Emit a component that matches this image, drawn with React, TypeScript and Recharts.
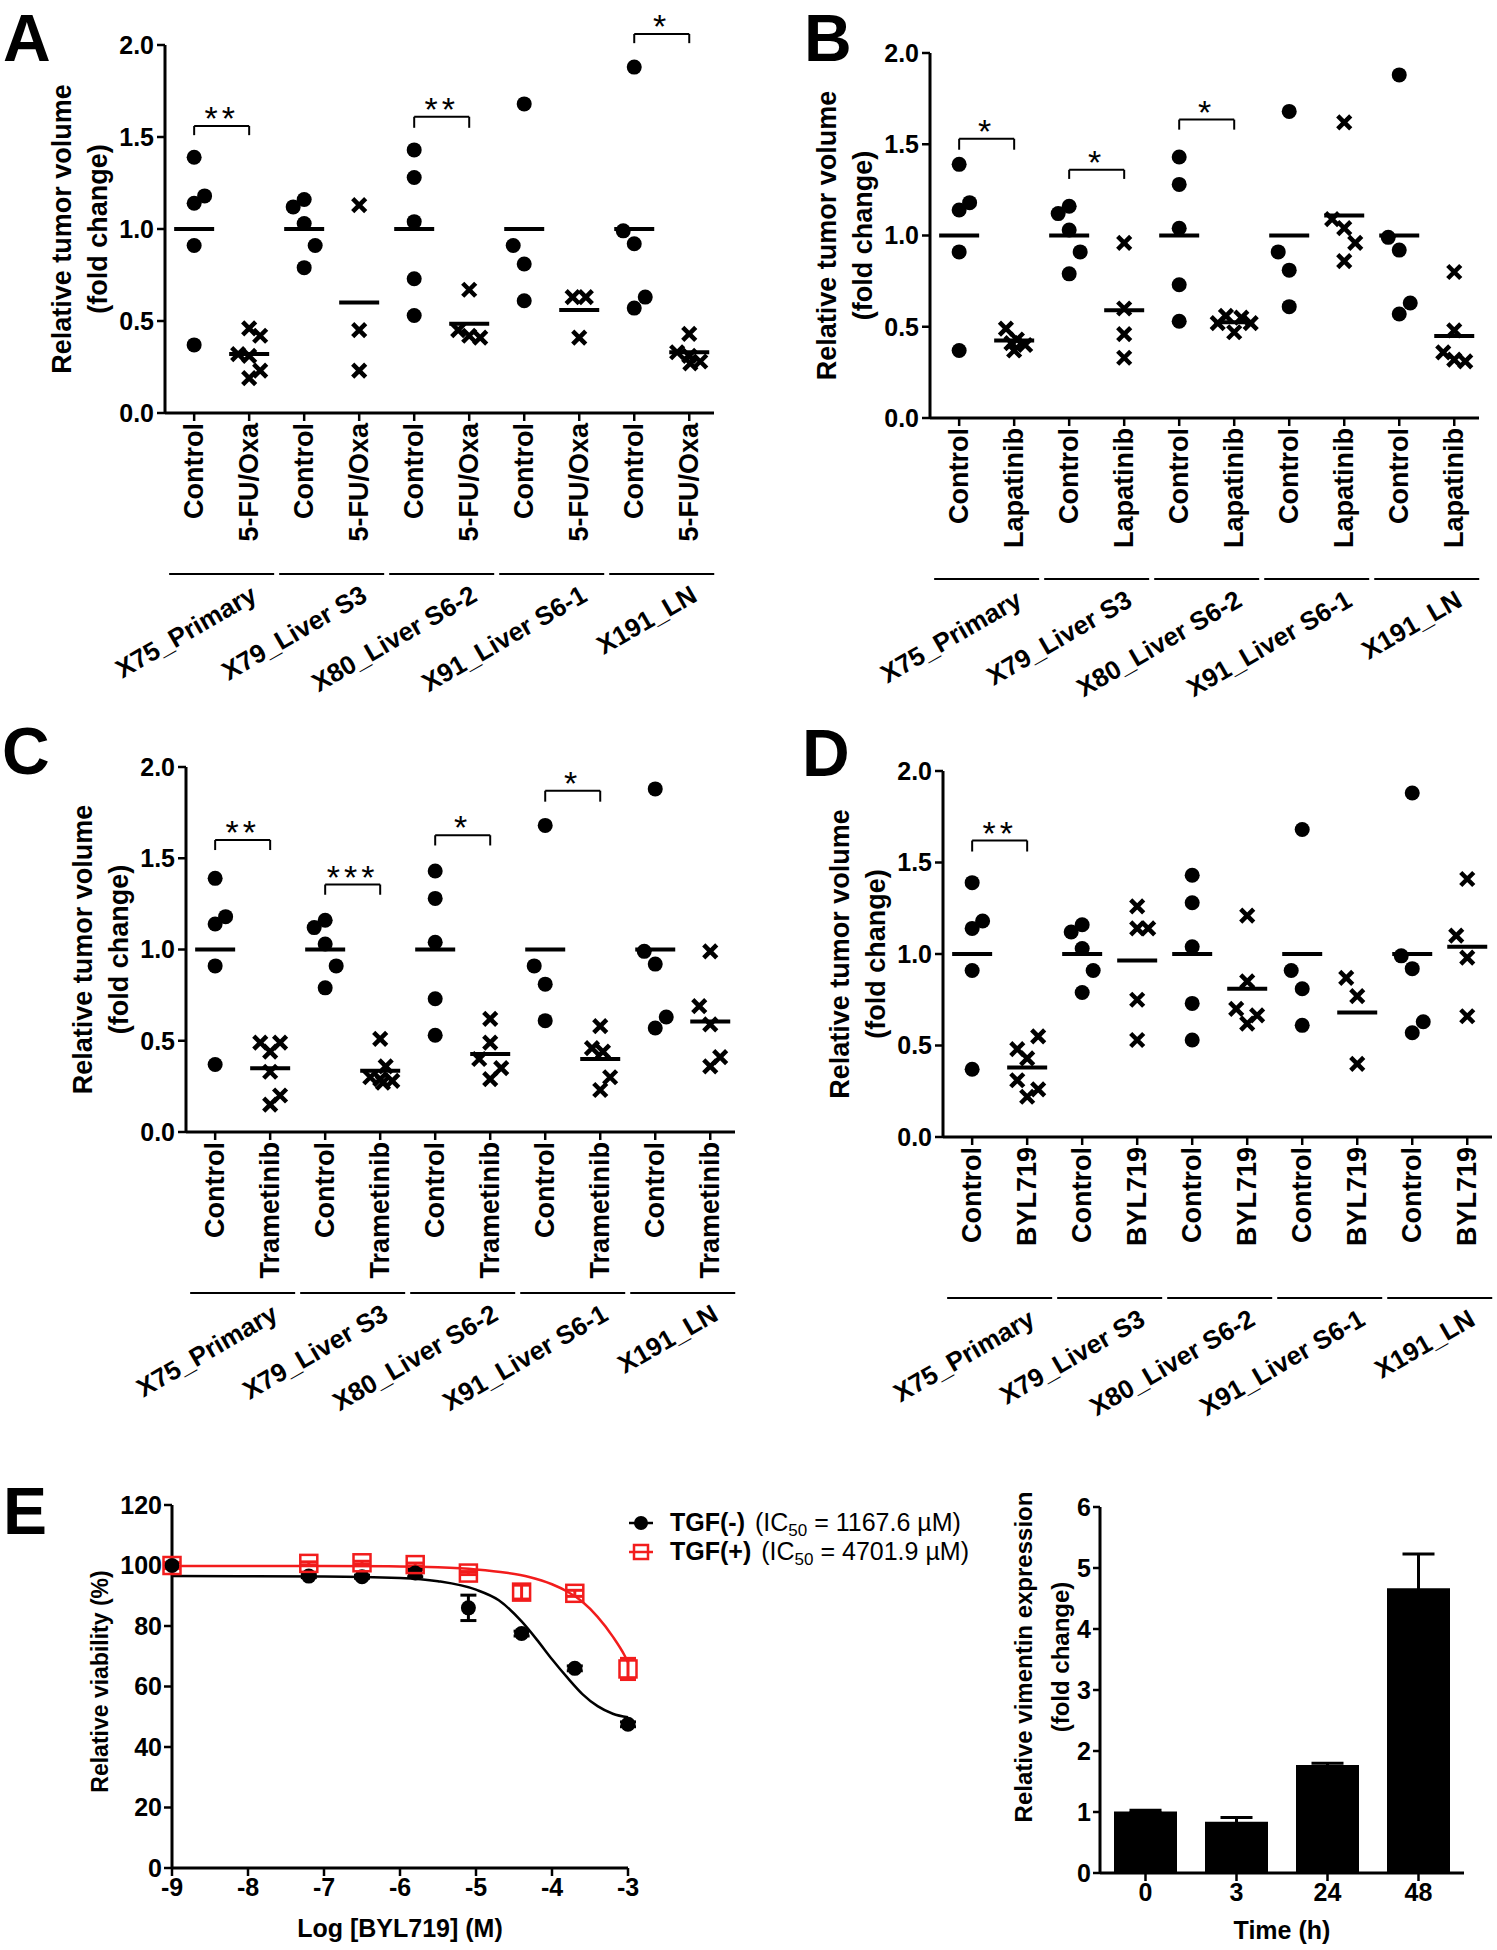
import React from 'react';
import {
  ComposedChart,
  BarChart,
  Bar,
  Scatter,
  Line,
  XAxis,
  YAxis,
  ReferenceLine,
  ReferenceDot,
  ErrorBar,
  Legend,
} from 'recharts';

const FONT = '"Liberation Sans", Arial, Helvetica, sans-serif';

// ---------- panels A-D : tumour volume per xenograft ----------
const XENOGRAFTS = ['X75_Primary', 'X79_Liver S3', 'X80_Liver S6-2', 'X91_Liver S6-1', 'X191_LN'];
const VOLUME_TICKS = [0, 0.5, 1, 1.5, 2];
const COLUMN_TICKS = [0, 1, 2, 3, 4, 5, 6, 7, 8, 9];

// control arms are the same animals in every panel
const CONTROL = [
  [1.39, 1.18, 1.14, 0.91, 0.37],
  [1.16, 1.12, 1.03, 0.91, 0.79],
  [1.43, 1.28, 1.04, 0.73, 0.53],
  [1.68, 0.91, 0.81, 0.61],
  [1.88, 0.99, 0.92, 0.63, 0.57],
];
// sideways scatter of the dots inside a column (column units)
const CONTROL_SPREAD = [
  [0, 0.19, 0, 0, 0],
  [0, -0.2, 0, 0.2, 0],
  [0, 0, 0, 0, 0],
  [0, -0.2, 0, 0],
  [0, -0.2, 0, 0.2, 0],
];
const CONTROL_MEAN = [1, 1, 1, 1, 1];

// A: 5-FU/Oxa
const OXA = [
  [0.46, 0.42, 0.32, 0.31, 0.23, 0.19],
  [1.13, 0.45, 0.23],
  [0.67, 0.45, 0.42, 0.41],
  [0.63, 0.63, 0.41],
  [0.43, 0.33, 0.31, 0.28, 0.27],
];
const OXA_SPREAD = [
  [0, 0.2, -0.2, 0, 0.2, 0],
  [0, 0, 0],
  [0, -0.2, 0, 0.2],
  [-0.12, 0.12, 0],
  [0, -0.22, 0, 0.2, 0.02],
];
const OXA_MEAN = [0.32, 0.6, 0.485, 0.56, 0.33];
const OXA_SIG = [
  { from: 0, to: 1, y: 1.56, leg: 1.51, stars: '**' },
  { from: 4, to: 5, y: 1.61, leg: 1.55, stars: '**' },
  { from: 8, to: 9, y: 2.06, leg: 2.01, stars: '*' },
];

// B: Lapatinib
const LAP = [
  [0.49, 0.43, 0.41, 0.4, 0.37],
  [0.96, 0.6, 0.46, 0.33],
  [0.56, 0.55, 0.52, 0.52, 0.47],
  [1.62, 1.09, 1.04, 0.96, 0.86],
  [0.8, 0.48, 0.36, 0.32, 0.31],
];
const LAP_SPREAD = [
  [-0.15, 0.05, -0.05, 0.2, 0],
  [0, 0, 0, 0],
  [-0.15, 0.13, -0.3, 0.3, 0],
  [0, -0.22, 0, 0.2, 0],
  [0, 0, -0.2, 0, 0.2],
];
const LAP_MEAN = [0.425, 0.59, 0.525, 1.11, 0.45];
const LAP_SIG = [
  { from: 0, to: 1, y: 1.53, leg: 1.47, stars: '*' },
  { from: 2, to: 3, y: 1.36, leg: 1.31, stars: '*' },
  { from: 4, to: 5, y: 1.635, leg: 1.58, stars: '*' },
];

// C: Trametinib
const TRA = [
  [0.49, 0.49, 0.44, 0.33, 0.2, 0.15],
  [0.51, 0.36, 0.3, 0.29, 0.28, 0.27],
  [0.62, 0.49, 0.4, 0.35, 0.29],
  [0.58, 0.46, 0.44, 0.3, 0.23],
  [0.99, 0.69, 0.59, 0.41, 0.36],
];
const TRA_SPREAD = [
  [-0.18, 0.18, 0, 0, 0.18, 0],
  [0, 0.1, -0.18, 0, 0.22, 0.05],
  [0, 0, -0.2, 0.2, 0],
  [0, -0.15, 0.05, 0.18, 0],
  [0, -0.2, 0, 0.18, 0],
];
const TRA_MEAN = [0.35, 0.335, 0.427, 0.4, 0.605];
const TRA_SIG = [
  { from: 0, to: 1, y: 1.6, leg: 1.545, stars: '**' },
  { from: 2, to: 3, y: 1.356, leg: 1.3, stars: '***' },
  { from: 4, to: 5, y: 1.626, leg: 1.57, stars: '*' },
  { from: 6, to: 7, y: 1.87, leg: 1.81, stars: '*' },
];

// D: BYL719
const BYL = [
  [0.55, 0.48, 0.43, 0.31, 0.26, 0.22],
  [1.26, 1.14, 1.14, 0.75, 0.53],
  [1.21, 0.85, 0.7, 0.665, 0.62],
  [0.87, 0.77, 0.4],
  [1.41, 1.1, 0.98, 0.66],
];
const BYL_SPREAD = [
  [0.2, -0.18, 0, -0.18, 0.2, 0],
  [0, 0, 0.2, 0, 0],
  [0, 0, -0.2, 0.18, 0],
  [-0.2, 0, 0],
  [0, -0.2, 0, 0],
];
const BYL_MEAN = [0.38, 0.965, 0.81, 0.68, 1.04];
const BYL_SIG = [{ from: 0, to: 1, y: 1.62, leg: 1.56, stars: '**' }];

// ---------- panel E left : dose response ----------
const LOG_DOSE = [-9, -7.2, -6.5, -5.8, -5.1, -4.4, -3.7, -3];
const VIAB_NEG = [100, 96.5, 96.3, 97.5, 86, 77.5, 66, 47.5];
const VIAB_NEG_ERR = [1, 0.5, 0.5, 1.2, 4.2, 0.8, 0.8, 0.8];
const VIAB_POS = [100, 100.7, 100.9, 100.3, 97.5, 91.2, 90.8, 65.8];
const VIAB_POS_ERR = [1, 0.5, 0.5, 0.5, 0.5, 2.3, 1, 3.5];
// fitted curves
const FIT_NEG_X = [-9, -7, -6, -5.5, -5, -4.7, -4.4, -4.2, -4, -3.8, -3.6, -3.4, -3.2, -3];
const FIT_NEG_Y = [96.5, 96.4, 95.9, 94.8, 92, 88.5, 81.5, 75.5, 69, 63, 57.5, 53.5, 51, 49.8];
const FIT_POS_X = [-9, -7, -6, -5.5, -5, -4.6, -4.3, -4, -3.8, -3.6, -3.4, -3.2, -3.05, -3];
const FIT_POS_Y = [99.8, 99.8, 99.7, 99.4, 98.7, 97.6, 96.2, 93.8, 91.4, 88, 83, 76.5, 70.5, 68];
const DOSE_TICKS = [-9, -8, -7, -6, -5, -4, -3];
const VIAB_TICKS = [0, 20, 40, 60, 80, 100, 120];
const SERIES = ['TGF(-)', 'TGF(+)'];
const IC50 = ['1167.6', '4701.9'];

// ---------- panel E right : vimentin ----------
const TIMES = ['0', '3', '24', '48'];
const VIMENTIN = [1.01, 0.84, 1.77, 4.67];
const VIMENTIN_ERR = [0.02, 0.07, 0.03, 0.56];
const VIM_TICKS = [0, 1, 2, 3, 4, 5, 6];

const RED = '#f21c1c';
const AXIS_LINE = { stroke: '#000', strokeWidth: 3 };
const TICK_LINE = { stroke: '#000', strokeWidth: 2.5 };
const NUM_TICK = { fontSize: 25, fontWeight: 'bold', fill: '#000', fontFamily: FONT };
const COL_PX = 55;

const toPoints = (vals: number[][], spread: number[][], arm: number) =>
  vals.flatMap((grp, g) => grp.map((y, i) => ({ x: 2 * g + arm + spread[g][i], y })));
const toMeans = (means: number[], arm: number) => means.map((y, g) => ({ x: 2 * g + arm, y }));

const DotMark = (p: any) => <circle cx={p.cx} cy={p.cy} r={7.5} fill="#000" />;
const CrossMark = (p: any) => (
  <path
    d={`M${p.cx - 6.5},${p.cy - 6.5}L${p.cx + 6.5},${p.cy + 6.5}M${p.cx + 6.5},${p.cy - 6.5}L${p.cx - 6.5},${p.cy + 6.5}`}
    stroke="#000"
    strokeWidth={4.5}
  />
);
const MeanMark = (p: any) => (
  <line x1={p.cx - 20} x2={p.cx + 20} y1={p.cy} y2={p.cy} stroke="#000" strokeWidth={4} />
);

const ColumnTick = ({ x, y, payload, treatName }: any) => {
  const i = payload.value;
  const first = i % 2 === 0;
  const gx = x + COL_PX / 2 + 37;
  const gy = y + 177;
  return (
    <g>
      <text
        x={x}
        y={y}
        transform={`rotate(-90, ${x}, ${y})`}
        textAnchor="end"
        dominantBaseline="central"
        fontSize={27}
        fontWeight="bold"
        fontFamily={FONT}
        fill="#000"
      >
        {first ? 'Control' : treatName}
      </text>
      {first && (
        <g>
          <line x1={x - 25} x2={x + COL_PX + 25} y1={y + 151} y2={y + 151} stroke="#000" strokeWidth={2} />
          <text
            x={gx}
            y={gy}
            transform={`rotate(-30, ${gx}, ${gy})`}
            textAnchor="end"
            fontSize={26}
            fontWeight="bold"
            fontFamily={FONT}
            fill="#000"
          >
            {XENOGRAFTS[i / 2]}
          </text>
        </g>
      )}
    </g>
  );
};

const YTitle = ({ viewBox, lines, offsets, dy = 0, size = 27 }: any) => {
  const x0 = viewBox.x + viewBox.width;
  const cy = viewBox.y + viewBox.height / 2 + dy;
  return (
    <g>
      {lines.map((s: string, k: number) => {
        const tx = x0 + offsets[k];
        return (
          <text
            key={k}
            x={tx}
            y={cy}
            transform={`rotate(-90, ${tx}, ${cy})`}
            textAnchor="middle"
            dominantBaseline="central"
            fontSize={size}
            fontWeight="bold"
            fontFamily={FONT}
            fill="#000"
          >
            {s}
          </text>
        );
      })}
    </g>
  );
};

const XTitle = ({ viewBox, text, dy }: any) => (
  <text
    x={viewBox.x + viewBox.width / 2}
    y={viewBox.y + dy}
    textAnchor="middle"
    dominantBaseline="central"
    fontSize={25}
    fontWeight="bold"
    fontFamily={FONT}
    fill="#000"
  >
    {text}
  </text>
);

type Sig = { from: number; to: number; y: number; leg: number; stars: string };

const VolumePanel = (props: {
  left: number;
  top: number;
  width: number;
  height: number;
  yAxisW: number;
  plotTop: number;
  plotBottom: number;
  rightM: number;
  treatName: string;
  treat: number[][];
  spread: number[][];
  means: number[];
  sig: Sig[];
}) => {
  const ctrl = toPoints(CONTROL, CONTROL_SPREAD, 0);
  const trt = toPoints(props.treat, props.spread, 1);
  const means = [...toMeans(CONTROL_MEAN, 0), ...toMeans(props.means, 1)];
  return (
    <div style={{ position: 'absolute', left: props.left, top: props.top }}>
      <ComposedChart
        width={props.width}
        height={props.height}
        margin={{ top: props.plotTop, right: props.rightM, bottom: 0, left: 0 }}
      >
        <XAxis
          type="number"
          dataKey="x"
          domain={[-0.53, 9.45]}
          ticks={COLUMN_TICKS}
          interval={0}
          height={props.height - props.plotBottom}
          axisLine={AXIS_LINE}
          tickLine={TICK_LINE}
          tickSize={8}
          tick={(t: any) => <ColumnTick {...t} treatName={props.treatName} />}
        />
        <YAxis
          type="number"
          dataKey="y"
          domain={[0, 2]}
          ticks={VOLUME_TICKS}
          interval={0}
          width={props.yAxisW}
          axisLine={AXIS_LINE}
          tickLine={TICK_LINE}
          tickSize={8}
          tickMargin={3}
          tick={NUM_TICK}
          tickFormatter={(v: number) => v.toFixed(1)}
          label={(l: any) => (
            <YTitle {...l} lines={['Relative tumor volume', '(fold change)']} offsets={[-103, -67]} />
          )}
        />
        <Scatter data={means} shape={MeanMark} isAnimationActive={false} />
        <Scatter data={ctrl} shape={DotMark} isAnimationActive={false} />
        <Scatter data={trt} shape={CrossMark} isAnimationActive={false} />
        {props.sig.map((s, k) => [
          <ReferenceLine
            key={`l${k}`}
            segment={[{ x: s.from, y: s.leg }, { x: s.from, y: s.y }]}
            stroke="#000"
            strokeWidth={2}
            ifOverflow="visible"
          />,
          <ReferenceLine
            key={`m${k}`}
            segment={[{ x: s.from, y: s.y }, { x: s.to, y: s.y }]}
            stroke="#000"
            strokeWidth={2}
            ifOverflow="visible"
          />,
          <ReferenceLine
            key={`r${k}`}
            segment={[{ x: s.to, y: s.y }, { x: s.to, y: s.leg }]}
            stroke="#000"
            strokeWidth={2}
            ifOverflow="visible"
          />,
          <ReferenceDot
            key={`s${k}`}
            x={(s.from + s.to) / 2}
            y={s.y}
            r={0}
            ifOverflow="visible"
            shape={(p: any) => (
              <text
                x={p.cx}
                y={p.cy + 4}
                textAnchor="middle"
                fontSize={34}
                letterSpacing={4}
                fontFamily={FONT}
                fill="#000"
              >
                {s.stars}
              </text>
            )}
          />,
        ])}
      </ComposedChart>
    </div>
  );
};

const BlackDot = (p: any) => <circle cx={p.cx} cy={p.cy} r={7.5} fill="#000" />;
const RedSquare = (p: any) => (
  <rect x={p.cx - 8.5} y={p.cy - 8.5} width={17} height={17} fill="none" stroke={RED} strokeWidth={2.5} />
);

const DoseLegend = () => (
  <div style={{ fontFamily: FONT, fontSize: 25, color: '#000', lineHeight: '29px' }}>
    {SERIES.map((name, k) => (
      <div key={name} style={{ display: 'flex', alignItems: 'center', whiteSpace: 'nowrap', height: 29 }}>
        <svg width={26} height={20} style={{ display: 'block' }}>
          <line x1={1} x2={25} y1={10} y2={10} stroke={k === 0 ? '#000' : RED} strokeWidth={2.5} />
          {k === 0 ? (
            <circle cx={13} cy={10} r={7} fill="#000" />
          ) : (
            <rect x={6} y={3} width={14} height={14} fill="none" stroke={RED} strokeWidth={2.5} />
          )}
        </svg>
        <b style={{ marginLeft: 16 }}>{name}</b>
        <span style={{ marginLeft: 10 }}>
          (IC<sub style={{ fontSize: 17, lineHeight: 0, verticalAlign: -5 }}>50</sub> = {IC50[k]} µM)
        </span>
      </div>
    ))}
  </div>
);

const Letter = ({ ch, left, top }: { ch: string; left: number; top: number }) => (
  <div
    style={{
      position: 'absolute',
      left,
      top,
      fontFamily: FONT,
      fontWeight: 'bold',
      fontSize: 66,
      lineHeight: '66px',
      color: '#000',
    }}
  >
    {ch}
  </div>
);

export default function App() {
  const negPts = LOG_DOSE.map((x, i) => ({ x, y: VIAB_NEG[i], err: VIAB_NEG_ERR[i] }));
  const posPts = LOG_DOSE.map((x, i) => ({ x, y: VIAB_POS[i], err: VIAB_POS_ERR[i] }));
  const fitNeg = FIT_NEG_X.map((x, i) => ({ x, y: FIT_NEG_Y[i] }));
  const fitPos = FIT_POS_X.map((x, i) => ({ x, y: FIT_POS_Y[i] }));
  const vim = TIMES.map((t, i) => ({ t, v: VIMENTIN[i], err: VIMENTIN_ERR[i] }));

  return (
    <div
      style={{
        position: 'absolute',
        left: 0,
        top: 0,
        width: 1497,
        height: 1950,
        background: '#fff',
        overflow: 'hidden',
      }}
    >
      <VolumePanel
        left={0}
        top={0}
        width={740}
        height={715}
        yAxisW={165}
        plotTop={45}
        plotBottom={413}
        rightM={26}
        treatName="5-FU/Oxa"
        treat={OXA}
        spread={OXA_SPREAD}
        means={OXA_MEAN}
        sig={OXA_SIG}
      />
      <VolumePanel
        left={760}
        top={0}
        width={737}
        height={715}
        yAxisW={170}
        plotTop={53}
        plotBottom={418}
        rightM={18}
        treatName="Lapatinib"
        treat={LAP}
        spread={LAP_SPREAD}
        means={LAP_MEAN}
        sig={LAP_SIG}
      />
      <VolumePanel
        left={0}
        top={715}
        width={760}
        height={745}
        yAxisW={186}
        plotTop={52}
        plotBottom={417}
        rightM={25}
        treatName="Trametinib"
        treat={TRA}
        spread={TRA_SPREAD}
        means={TRA_MEAN}
        sig={TRA_SIG}
      />
      <VolumePanel
        left={760}
        top={715}
        width={737}
        height={745}
        yAxisW={183}
        plotTop={56}
        plotBottom={422}
        rightM={5}
        treatName="BYL719"
        treat={BYL}
        spread={BYL_SPREAD}
        means={BYL_MEAN}
        sig={BYL_SIG}
      />

      <div style={{ position: 'absolute', left: 0, top: 1460 }}>
        <ComposedChart width={1000} height={490} margin={{ top: 45, right: 372, bottom: 0, left: 0 }}>
          <XAxis
            type="number"
            dataKey="x"
            domain={[-9, -3]}
            ticks={DOSE_TICKS}
            interval={0}
            height={82}
            axisLine={AXIS_LINE}
            tickLine={TICK_LINE}
            tickSize={8}
            tick={NUM_TICK}
            label={(l: any) => <XTitle {...l} text="Log [BYL719] (M)" dy={60} />}
          />
          <YAxis
            type="number"
            dataKey="y"
            domain={[0, 120]}
            ticks={VIAB_TICKS}
            interval={0}
            width={172}
            axisLine={AXIS_LINE}
            tickLine={TICK_LINE}
            tickSize={8}
            tickMargin={2}
            tick={NUM_TICK}
            label={(l: any) => (
              <YTitle {...l} lines={['Relative viability (%)']} offsets={[-72]} dy={-5} size={23} />
            )}
          />
          <Line data={fitNeg} dataKey="y" type="monotone" stroke="#000" strokeWidth={2.5} dot={false} isAnimationActive={false} />
          <Line data={fitPos} dataKey="y" type="monotone" stroke={RED} strokeWidth={2.5} dot={false} isAnimationActive={false} />
          <Scatter data={negPts} shape={BlackDot} isAnimationActive={false}>
            <ErrorBar dataKey="err" direction="y" width={8} stroke="#000" strokeWidth={3} />
          </Scatter>
          <Scatter data={posPts} shape={RedSquare} isAnimationActive={false}>
            <ErrorBar dataKey="err" direction="y" width={8} stroke={RED} strokeWidth={3} />
          </Scatter>
          <Legend
            layout="horizontal"
            verticalAlign="middle"
            align="center"
            content={() => <DoseLegend />}
            wrapperStyle={{ left: 628, top: 48, width: 370, height: 60 }}
          />
        </ComposedChart>
      </div>

      <div style={{ position: 'absolute', left: 1000, top: 1460 }}>
        <BarChart width={497} height={490} data={vim} margin={{ top: 47, right: 33, bottom: 0, left: 0 }}>
          <XAxis
            dataKey="t"
            height={77}
            axisLine={AXIS_LINE}
            tickLine={TICK_LINE}
            tickSize={8}
            tick={NUM_TICK}
            interval={0}
            label={(l: any) => <XTitle {...l} text="Time (h)" dy={57} />}
          />
          <YAxis
            type="number"
            domain={[0, 6]}
            ticks={VIM_TICKS}
            interval={0}
            width={100}
            axisLine={AXIS_LINE}
            tickLine={TICK_LINE}
            tickSize={7}
            tickMargin={2}
            tick={NUM_TICK}
            label={(l: any) => (
              <YTitle
                {...l}
                lines={['Relative vimentin expression', '(fold change)']}
                offsets={[-77, -40]}
                dy={-33}
                size={24}
              />
            )}
          />
          <Bar dataKey="v" fill="#000" barSize={63} isAnimationActive={false}>
            <ErrorBar dataKey="err" direction="y" width={16} stroke="#000" strokeWidth={3} />
          </Bar>
        </BarChart>
      </div>

      <Letter ch="A" left={3} top={5} />
      <Letter ch="B" left={804} top={5} />
      <Letter ch="C" left={2} top={718} />
      <Letter ch="D" left={802} top={720} />
      <Letter ch="E" left={3} top={1478} />
    </div>
  );
}
